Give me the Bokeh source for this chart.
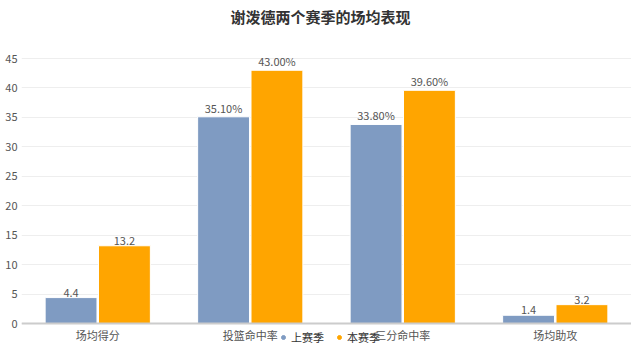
from bokeh.plotting import figure
from bokeh.models import (ColumnDataSource, FixedTicker, Legend, LegendItem, LabelSet,
                          Label, Span)
from bokeh.transform import dodge
from bokeh.core.properties import value
from bokeh.embed import file_html
from bokeh.resources import INLINE

title_text = "谢泼德两个赛季的场均表现"
categories = ["场均得分", "投篮命中率", "三分命中率", "场均助攻"]
last_season = [4.4, 35.1, 33.8, 1.4]
this_season = [13.2, 43.0, 39.6, 3.2]
is_percent = [False, True, True, False]
series_names = ["上赛季", "本赛季"]
y_ticks = [0, 5, 10, 15, 20, 25, 30, 35, 40, 45]

BLUE = "#7f9bc2"
ORANGE = "#ffa500"
FONT = "Noto Sans CJK SC"

# layout (pixels)
FRAME_H = 345
TOP_PAD = 58      # px above the 45 line
BOTTOM_PAD = 22   # px below the 0 line
px_per_unit = (FRAME_H - TOP_PAD - BOTTOM_PAD) / 45.0

def fmt(v, pct):
    return f"{v:.2f}%" if pct else f"{v}"

src = ColumnDataSource(dict(
    cat=categories,
    last=last_season,
    this=this_season,
    last_lbl=[fmt(v, p) for v, p in zip(last_season, is_percent)],
    this_lbl=[fmt(v, p) for v, p in zip(this_season, is_percent)],
))

p = figure(x_range=categories,
           y_range=(-BOTTOM_PAD / px_per_unit, 45 + TOP_PAD / px_per_unit),
           frame_width=610, frame_height=FRAME_H,
           output_backend="svg", toolbar_location=None,
           min_border_left=21, min_border_right=0, min_border_top=0, min_border_bottom=0)
p.title.visible = False

p.vbar(x=dodge("cat", -0.175, range=p.x_range), top="last", width=0.34, source=src,
       fill_color=BLUE, line_color="white", line_width=1)
p.vbar(x=dodge("cat", 0.175, range=p.x_range), top="this", width=0.34, source=src,
       fill_color=ORANGE, line_color="white", line_width=1)

p.add_layout(Span(location=0, dimension="width", line_color="#cccccc", line_width=2))

for off, col, lbl in [(-0.175, "last", "last_lbl"), (0.175, "this", "this_lbl")]:
    ls = LabelSet(x=dodge("cat", off, range=p.x_range), y=col, text=lbl, source=src,
                  text_align="center", text_baseline="bottom", y_offset=1,
                  text_font=value(FONT), text_font_size="11px", text_color="#555555")
    p.add_layout(ls)

# category labels under the 0 line
cat_src = ColumnDataSource(dict(cat=categories, zero=[0] * len(categories)))
p.add_layout(LabelSet(x="cat", y="zero", text="cat", source=cat_src,
                      text_align="center", text_baseline="top", y_offset=-3,
                      text_font=value(FONT), text_font_size="11px", text_color="#555555"))

# title
p.add_layout(Label(x=299, y=FRAME_H - 16, x_units="screen", y_units="screen",
                   text=title_text, text_align="center", text_baseline="middle",
                   text_font=FONT, text_font_size="15px", text_font_style="bold",
                   text_color="#333333"))

# legend markers: points placed far below the visible y range
r1 = p.scatter(x=[categories[0]], y=[-1000], marker="circle", size=7, fill_color=BLUE, line_color=BLUE)
r2 = p.scatter(x=[categories[0]], y=[-1000], marker="circle", size=7, fill_color=ORANGE, line_color=ORANGE)
legend = Legend(items=[LegendItem(label=series_names[0], renderers=[r1]),
                       LegendItem(label=series_names[1], renderers=[r2])],
                orientation="horizontal", location=(257, 0),
                label_text_font=FONT, label_text_font_size="11px", label_text_color="#333333",
                glyph_width=10, glyph_height=10, label_standoff=3, spacing=10,
                label_height=10, padding=0, margin=0, border_line_color=None,
                background_fill_alpha=0)
p.add_layout(legend, "center")

p.yaxis.ticker = FixedTicker(ticks=y_ticks)
p.yaxis.axis_line_color = None
p.yaxis.major_tick_line_color = None
p.yaxis.minor_tick_line_color = None
p.yaxis.major_tick_out = 0
p.yaxis.major_tick_in = 0
p.yaxis.major_label_text_font = FONT
p.yaxis.major_label_text_font_size = "11px"
p.yaxis.major_label_text_color = "#555555"
p.yaxis.major_label_standoff = 4

p.xaxis.visible = False

p.xgrid.grid_line_color = None
p.ygrid.grid_line_color = "#eeeeee"
p.ygrid.grid_line_width = 1
p.outline_line_color = None
p.x_range.range_padding = 0

open("out.html", "w").write(file_html(p, INLINE))
